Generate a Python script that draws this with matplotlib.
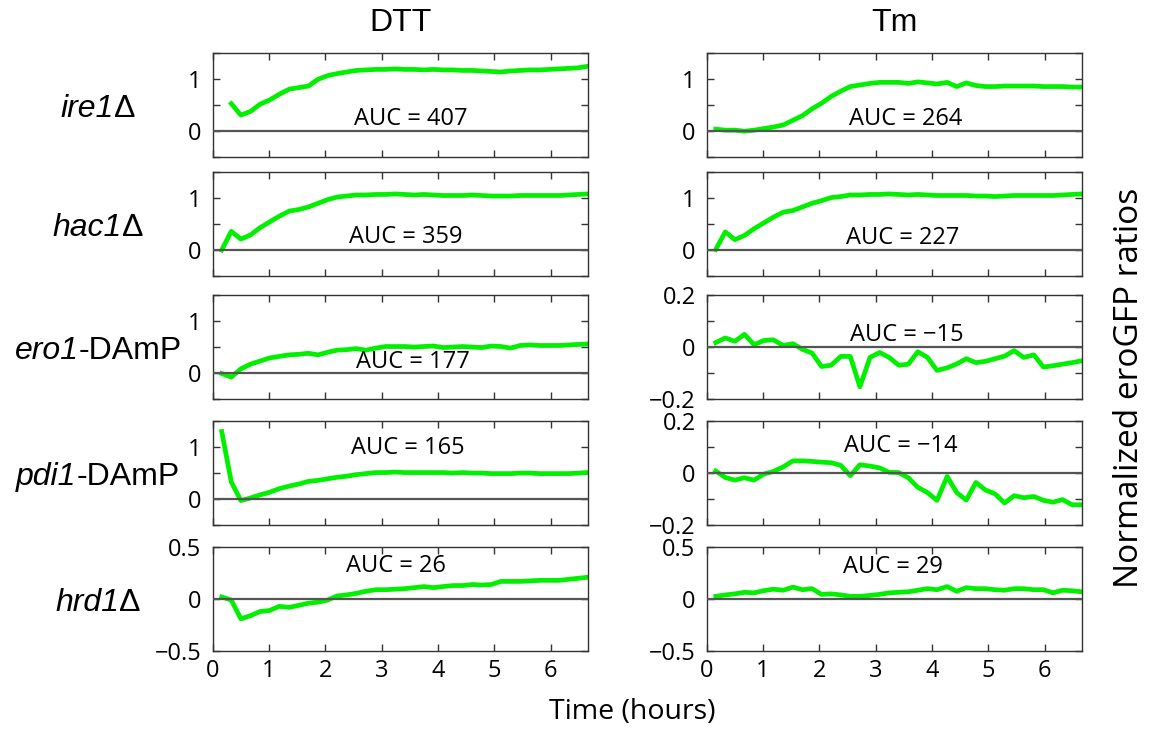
import numpy as np
import matplotlib.pyplot as plt

# sampling times (hours)
time_h = [0.16, 0.33, 0.50, 0.67, 0.84, 1.01, 1.18, 1.36, 1.53, 1.70,
          1.87, 2.04, 2.21, 2.38, 2.55, 2.72, 2.90, 3.07, 3.24, 3.41,
          3.58, 3.75, 3.92, 4.09, 4.27, 4.44, 4.61, 4.78, 4.95, 5.12,
          5.29, 5.46, 5.63, 5.81, 5.98, 6.15, 6.32, 6.49, 6.66]

# DTT column
dtt_ire1 = [np.nan, 0.52, 0.30, 0.37, 0.51, 0.59, 0.70, 0.80, 0.83, 0.86,
            0.99, 1.06, 1.10, 1.13, 1.16, 1.17, 1.18, 1.18, 1.19, 1.18,
            1.18, 1.17, 1.18, 1.17, 1.17, 1.16, 1.16, 1.15, 1.14, 1.13,
            1.15, 1.16, 1.17, 1.17, 1.18, 1.19, 1.20, 1.21, 1.24]
dtt_hac1 = [0.00, 0.36, 0.21, 0.29, 0.43, 0.54, 0.65, 0.75, 0.78, 0.83,
            0.90, 0.97, 1.02, 1.04, 1.06, 1.06, 1.07, 1.07, 1.08, 1.07,
            1.06, 1.07, 1.06, 1.05, 1.05, 1.05, 1.06, 1.05, 1.04, 1.04,
            1.04, 1.05, 1.05, 1.05, 1.05, 1.05, 1.06, 1.07, 1.08]
dtt_ero1 = [-0.01, -0.08, 0.08, 0.17, 0.23, 0.29, 0.32, 0.35, 0.36, 0.38,
            0.35, 0.40, 0.44, 0.45, 0.47, 0.44, 0.48, 0.51, 0.51, 0.51,
            0.50, 0.51, 0.52, 0.49, 0.50, 0.51, 0.50, 0.49, 0.52, 0.51,
            0.48, 0.53, 0.54, 0.53, 0.53, 0.53, 0.54, 0.55, 0.56]
dtt_pdi1 = [1.30, 0.33, -0.03, 0.02, 0.08, 0.13, 0.20, 0.25, 0.29, 0.34,
            0.36, 0.39, 0.42, 0.44, 0.47, 0.49, 0.51, 0.51, 0.52, 0.51,
            0.51, 0.51, 0.51, 0.51, 0.50, 0.51, 0.50, 0.50, 0.49, 0.49,
            0.49, 0.50, 0.50, 0.49, 0.49, 0.49, 0.49, 0.50, 0.51]
dtt_hrd1 = [0.02, -0.01, -0.19, -0.16, -0.12, -0.11, -0.07, -0.08, -0.06, -0.04,
            -0.03, -0.01, 0.03, 0.04, 0.055, 0.075, 0.09, 0.09, 0.095, 0.10,
            0.11, 0.12, 0.11, 0.12, 0.13, 0.13, 0.14, 0.135, 0.14, 0.17,
            0.17, 0.17, 0.175, 0.18, 0.18, 0.18, 0.19, 0.20, 0.21]

# Tm column
tm_ire1 = [0.03, 0.01, 0.01, -0.01, 0.01, 0.04, 0.07, 0.11, 0.20, 0.29,
           0.42, 0.53, 0.66, 0.76, 0.85, 0.88, 0.91, 0.93, 0.93, 0.93,
           0.91, 0.94, 0.92, 0.90, 0.93, 0.85, 0.92, 0.87, 0.85, 0.85,
           0.86, 0.86, 0.86, 0.86, 0.85, 0.85, 0.85, 0.84, 0.84]
tm_hac1 = [0.01, 0.35, 0.20, 0.28, 0.41, 0.52, 0.63, 0.73, 0.76, 0.83,
           0.90, 0.95, 1.01, 1.03, 1.06, 1.06, 1.07, 1.07, 1.08, 1.07,
           1.06, 1.07, 1.06, 1.05, 1.05, 1.05, 1.05, 1.04, 1.04, 1.03,
           1.04, 1.05, 1.05, 1.05, 1.05, 1.05, 1.06, 1.07, 1.08]
tm_ero1 = [0.017, 0.035, 0.022, 0.049, 0.009, 0.025, 0.028, 0.006, 0.013, -0.009,
           -0.023, -0.075, -0.070, -0.036, -0.036, -0.153, -0.040, -0.021, -0.040, -0.070,
           -0.066, -0.018, -0.040, -0.090, -0.080, -0.065, -0.045, -0.060, -0.055, -0.045,
           -0.035, -0.014, -0.040, -0.030, -0.077, -0.072, -0.066, -0.060, -0.053]
tm_pdi1 = [0.008, -0.017, -0.027, -0.018, -0.027, -0.004, 0.006, 0.024, 0.047, 0.047,
           0.045, 0.042, 0.040, 0.030, -0.010, 0.032, 0.027, 0.020, 0.003, 0.002,
           -0.018, -0.055, -0.075, -0.105, -0.013, -0.075, -0.104, -0.036, -0.065, -0.080,
           -0.115, -0.087, -0.095, -0.090, -0.105, -0.112, -0.102, -0.122, -0.122]
tm_hrd1 = [0.026, 0.04, 0.05, 0.065, 0.06, 0.08, 0.095, 0.085, 0.115, 0.09,
           0.10, 0.045, 0.05, 0.04, 0.026, 0.026, 0.035, 0.045, 0.06, 0.065,
           0.07, 0.085, 0.10, 0.09, 0.12, 0.075, 0.11, 0.10, 0.10, 0.09,
           0.085, 0.10, 0.10, 0.09, 0.09, 0.06, 0.085, 0.08, 0.07]

# strain names: italic gene part + upright suffix
strain_gene = ['ire1', 'hac1', 'ero1', 'pdi1', 'hrd1']
strain_suffix = ['Δ', 'Δ', '-DAmP', '-DAmP', 'Δ']
treatments = ['DTT', 'Tm']
dtt_auc = [407, 359, 177, 165, 26]
tm_auc = [264, 227, -15, -14, 29]

dtt_series = [dtt_ire1, dtt_hac1, dtt_ero1, dtt_pdi1, dtt_hrd1]
tm_series = [tm_ire1, tm_hac1, tm_ero1, tm_pdi1, tm_hrd1]

# layout (figure fractions) and label placement
col_left = [0.1848, 0.6140]
col_width = 0.3258
row_bottom = [0.7851, 0.6214, 0.4527, 0.2798, 0.1070]
row_height = 0.1425
dtt_auc_xy = [(3.52, 0.22), (3.42, 0.245), (3.56, 0.21), (3.47, 0.99), (3.26, 0.32)]
tm_auc_xy = [(3.53, 0.23), (3.48, 0.235), (3.55, 0.048), (3.45, 0.104), (3.31, 0.31)]

tick_font = 'Open Sans'
label_font = 'Liberation Sans'
green = '#00f000'


def minus(v):
    return ('%g' % v).replace('-', '\u2212')


def y_setup(ax, lo, hi):
    ax.set_ylim(lo, hi)
    if hi > 1:
        ticks = [-0.5, 0, 0.5, 1, 1.5]
        labels = ['', '0', '', '1', '']
    elif hi < 0.3:
        ticks = [-0.2, -0.1, 0, 0.1, 0.2]
        labels = [minus(-0.2), '', '0', '', '0.2']
    else:
        ticks = [-0.5, 0, 0.5]
        labels = [minus(-0.5), '0', '0.5']
    ax.set_yticks(ticks)
    ax.set_yticklabels(labels, fontfamily=tick_font, fontsize=17)


fig = plt.figure(figsize=(11.51, 7.29), dpi=100)

ylims_dtt = [(-0.5, 1.5)] * 4 + [(-0.5, 0.5)]
ylims_tm = [(-0.5, 1.5), (-0.5, 1.5), (-0.2, 0.2), (-0.2, 0.2), (-0.5, 0.5)]

name_parts = []
for col, (series, aucs, auc_xy, ylims) in enumerate([
        (dtt_series, dtt_auc, dtt_auc_xy, ylims_dtt),
        (tm_series, tm_auc, tm_auc_xy, ylims_tm)]):
    for row in range(5):
        ax = fig.add_axes([col_left[col], row_bottom[row], col_width, row_height])
        ax.plot(time_h, series[row], color=green, lw=3.4, zorder=2)
        ax.axhline(0, color='#555555', lw=1.6, zorder=3)
        ax.set_xlim(0, 6.66)
        ax.set_xticks(range(7))
        y_setup(ax, *ylims[row])
        ax.tick_params(direction='in', length=5, width=1, top=True, right=True,
                       colors='#333333', labelcolor='black')
        ax.tick_params(axis='y', pad=8)
        ax.tick_params(axis='x', pad=6)
        if row < 4:
            ax.set_xticklabels([])
        else:
            ax.set_xticklabels([str(i) for i in range(7)], fontfamily=tick_font, fontsize=17)
        for sp in ax.spines.values():
            sp.set_color('#333333')
            sp.set_linewidth(1.0)
        tx, ty = auc_xy[row]
        ax.text(tx, ty, 'AUC = ' + minus(aucs[row]), ha='center', va='center',
                fontfamily=tick_font, fontsize=17)
        if col == 0:
            yc = row_bottom[row] + row_height / 2 - 0.006
            t1 = fig.text(0, yc, strain_gene[row], ha='left', va='center',
                          fontfamily=label_font, fontstyle='italic', fontsize=23)
            t2 = fig.text(0, yc, strain_suffix[row], ha='left', va='center',
                          fontfamily=label_font, fontsize=23)
            name_parts.append((t1, t2))

# centre each strain name (italic + upright parts) on x = 98 px
renderer = fig.canvas.get_renderer()
for t1, t2 in name_parts:
    w1 = t1.get_window_extent(renderer).width
    w2 = t2.get_window_extent(renderer).width
    x0 = 98 - (w1 + w2) / 2
    t1.set_x(x0 / 1151)
    t2.set_x((x0 + w1) / 1151)

fig.text(col_left[0] + col_width / 2, 1 - 23 / 729, treatments[0], ha='center', va='center',
         fontfamily=label_font, fontsize=23)
fig.text(col_left[1] + col_width / 2, 1 - 23 / 729, treatments[1], ha='center', va='center',
         fontfamily=label_font, fontsize=23)
fig.text(632 / 1151, 1 - 712 / 729, 'Time (hours)', ha='center', va='center',
         fontfamily=tick_font, fontsize=20.5)
fig.text(1130 / 1151, 1 - 388 / 729, 'Normalized eroGFP ratios', ha='center', va='center',
         rotation=90, fontfamily=tick_font, fontsize=24)

fig.savefig('out.png', dpi=100)
plt.close(fig)
